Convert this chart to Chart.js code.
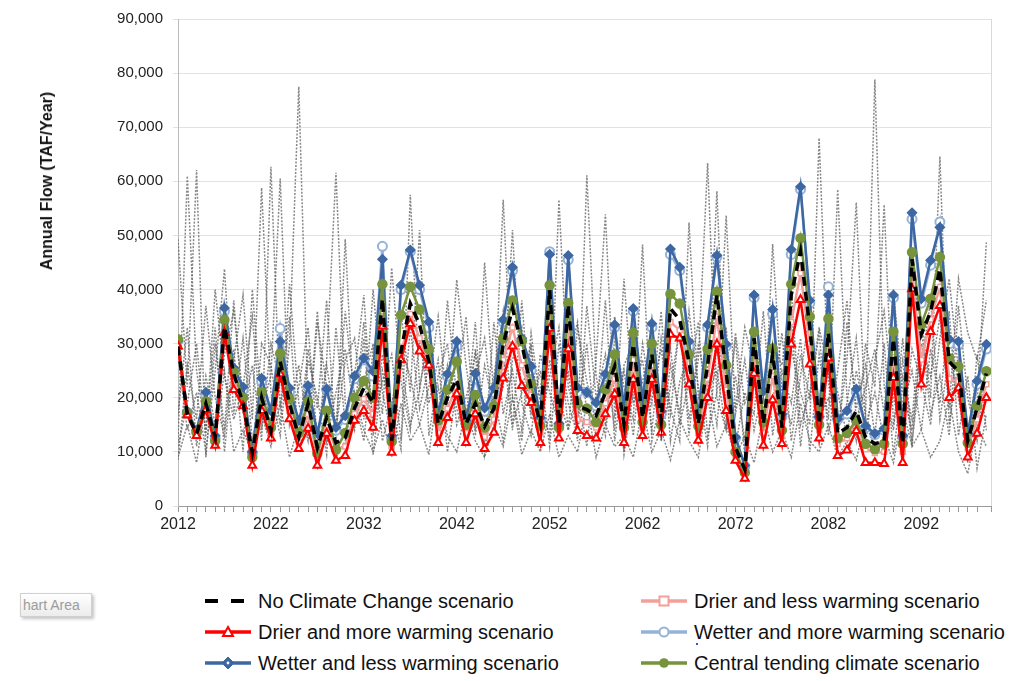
<!DOCTYPE html>
<html>
<head>
<meta charset="utf-8">
<script src="https://cdn.jsdelivr.net/npm/chart.js@4.4.0/dist/chart.umd.min.js"></script>
<style>
  html, body { margin: 0; padding: 0; background: #fff; }
  body { width: 1018px; height: 681px; position: relative; overflow: hidden;
         font-family: "Liberation Sans", Arial, sans-serif; }
  #chartBox { position: absolute; left: 0; top: 0; width: 1018px; height: 560px; }
  #yTitle { position: absolute; left: 47px; top: 181px; transform: translate(-50%, -50%) rotate(-90deg);
            font-weight: bold; font-size: 16px; white-space: nowrap; color: #111; }
  .lg { position: absolute; height: 24px; display: flex; align-items: center; font-size: 20px; color: #111; white-space: nowrap; }
  .lg svg { margin-right: 5px; }
  #areaTip { position: absolute; left: 20px; top: 593px; width: 72px; height: 24px; border: 1px solid #d0d0d0;
             background: linear-gradient(#ffffff, #ececec); box-shadow: 2px 2px 3px #c4c4c4;
             font-size: 14px; color: #9c9c9c; line-height: 23px; padding-left: 2px; box-sizing: border-box; }
  #dot { position: absolute; left: 696px; top: 643px; width: 2px; height: 2px; background: #3355dd; }
</style>
</head>
<body>
<div id="chartBox"><canvas id="flowChart" width="1018" height="560"></canvas></div>
<div id="yTitle">Annual Flow (TAF/Year)</div>
<div id="areaTip">hart Area</div>
<div id="dot"></div>
<div id="legend"></div>
<script>
// years 2012 - 2099
const years = [];
for (let y = 2012; y <= 2099; y++) years.push(y);

// scenario series (TAF/year)
const noChange = [
  29500,17000,13400,18900,12700,33100,24400,19000,9900,20000,
  13900,26700,18900,12700,18900,10800,16300,11700,12600,18100,
  21800,19100,38300,12100,28600,37400,33500,26700,15200,20000,
  23400,15200,18900,14700,18000,29900,36500,30000,21800,15200,
  39900,15200,37200,18500,17800,16700,20900,25800,15200,29900,
  16300,28000,15800,36500,34400,26700,15200,26000,39000,24500,
  10800,6800,31000,15200,28000,14500,39000,47000,33000,15200,
  32000,13400,14500,17600,12700,11500,12000,30900,11500,45600,
  31700,35900,43800,26700,24900,12100,18100,24500];
const drierLess = [
  29800,17000,13200,18400,12000,33000,23000,19000,9000,19000,
  13200,25800,17500,11800,17000,9500,15000,10500,11000,17000,
  19800,17000,36000,11000,28000,35500,31000,26500,13500,18000,
  22000,13500,18000,12800,16000,27000,33000,26000,20500,13500,
  36500,14000,33500,16000,15500,14500,19000,23500,13500,27000,
  14500,26000,14500,34000,32500,24500,13500,23500,35000,21500,
  9500,5800,28500,13500,24000,13000,34000,43000,30000,14000,
  30000,11500,12500,15800,10500,9800,10000,27500,10000,43000,
  27000,34500,40500,23500,23000,10800,16000,22500];
const drierMore = [
  29500,16800,13000,17800,11200,32000,21500,18500,7500,17600,
  12500,24400,16100,10600,14300,7500,13400,8400,9300,15800,
  17600,14500,33200,9900,27000,33700,28600,26000,11700,16300,
  20700,11700,17000,10600,13600,23600,29500,22200,19100,11700,
  32800,12500,29000,13900,13000,12500,17000,20700,11700,23400,
  13000,23400,13600,31700,31000,22500,12100,20000,29900,17600,
  8400,5100,24500,11200,19600,11500,29900,38100,26200,12500,
  27300,9300,10300,13900,8000,8000,7800,23700,8000,40100,
  22500,32200,37000,20000,21800,9000,13400,20000];
const wetterMore = [
  30500,17300,13800,20500,12500,36000,25000,21500,9800,23000,
  17000,32800,21000,15000,22000,13000,21500,14000,16000,23500,
  27000,24000,48000,12500,40000,47000,40000,33000,16500,24000,
  29500,15500,23500,17500,21000,34000,43500,30500,25000,16000,
  47000,15000,45500,21000,21000,18500,24000,33000,17500,36000,
  19000,33000,17000,46500,43500,29500,16000,33000,46000,29500,
  12500,7300,38500,20500,35500,16500,46500,58500,37500,16500,
  40500,16000,17000,21000,14500,13200,14000,38500,12800,53000,
  37500,44500,52500,30000,29800,13200,22500,29000];
const wetterLess = [
  30500,17500,14000,21000,13000,36600,25500,22000,10000,23600,
  17600,30400,21800,15800,22200,13400,21600,14500,16700,24000,
  27300,24900,45600,13000,40800,47300,40800,34000,17000,24400,
  30400,15800,24500,18100,21800,34400,44100,31000,25800,16300,
  46500,15200,46300,21800,21000,19100,24400,33500,18100,36500,
  19500,33700,17500,47500,44100,30400,16500,33500,46300,29900,
  12700,7500,39000,21200,36300,17000,47400,59000,38000,16500,
  39000,16100,17600,21600,14800,13400,14300,39000,13000,54200,
  38300,45400,51500,30800,30400,13400,23100,29900];
const central = [
  30800,17200,13600,19300,12000,34400,24800,20000,9000,21000,
  14500,28200,19800,13500,19300,9700,17600,10400,13500,20000,
  23100,20000,41000,11900,35300,40500,36300,29000,15800,21500,
  26700,15000,20500,14500,18500,31000,38000,30500,22500,14800,
  40800,14500,37500,19000,18000,15500,21500,28000,14500,32000,
  15500,30000,15000,39200,37400,28000,14800,29000,39600,26000,
  10000,6200,32200,15500,29100,14000,41000,49500,35000,15000,
  34600,12500,13500,15800,11500,10500,11500,32200,11500,46900,
  33500,38300,46000,27300,25800,11700,18500,24900];

// individual climate projections (grey dotted), rough reading
const gcm1 = [
  49300,22000,62100,9000,30000,14000,38000,17000,26000,12000,
  62700,18000,35000,11000,27000,20000,9500,33000,15000,24000,
  39000,13000,28000,18000,10500,57500,22000,31000,12500,19000,
  27000,16000,34000,9500,21000,29000,14000,38000,17000,25000,
  11000,30000,19000,13000,61100,24000,15000,28000,10000,36000,
  18000,26000,12000,22000,33000,16000,27000,63400,20000,14000,
  31000,9000,25000,17000,37000,12000,29000,21000,15000,68000,
  23000,11000,34000,18000,26000,13000,30000,9500,24000,16000,
  35000,20000,64600,15000,27000,11000,22000,30000];
const gcm2 = [
  12000,61000,25000,14000,33000,10000,27000,39000,16000,58800,
  21000,13000,30000,77500,18000,11000,26000,15000,36000,20000,
  12000,29000,17000,44000,23000,14000,31000,19000,27000,10000,
  22000,35000,13000,26000,18000,56600,20000,12000,29000,15000,
  24000,33000,14000,21000,11000,27000,53900,17000,25000,13000,
  30000,19000,36000,12000,23000,28000,14000,20000,58200,16000,
  24000,12000,32000,19000,27000,15000,35000,11000,26000,18000,
  29000,21000,13000,25000,17000,78800,22000,14000,31000,12000,
  26000,38000,16000,28000,20000,9000,19000,48700];
const gcm3 = [
  8500,26000,16000,37000,20000,13000,29000,10000,40000,18000,
  24000,60500,15000,22000,33000,12000,27000,61600,19000,14000,
  31000,9500,25000,16000,36000,21000,51000,13000,24000,30000,
  15000,20000,28000,11000,34000,17000,25000,14000,32000,19000,
  13000,56600,22000,16000,30000,12000,23000,35000,9500,21000,
  27000,14000,31000,18000,12000,52400,20000,26000,15000,33000,
  11000,21000,17000,36000,13000,25000,19000,31000,10000,28000,
  16000,58500,20000,12000,30000,22000,55700,15000,27000,11000,
  33000,17000,24000,13000,37000,20000,12000,26000];
const gcm4 = [
  28000,14000,21000,10000,25000,43800,17000,31000,12000,22000,
  16000,34000,20000,13000,29000,18000,38000,11000,49300,15000,
  23000,30000,12000,19000,27000,15000,21000,35000,14000,26000,
  18000,12000,24000,31000,16000,22000,51000,19000,13000,28000,
  21000,15000,27000,34000,17000,20000,13000,31000,22000,16000,
  48300,12000,20000,29000,15000,23000,34000,13000,21000,53700,
  17000,27000,14000,22000,19000,32000,12000,24000,36000,16000,
  20000,13000,27000,56100,15000,21000,12000,33000,18000,25000,
  14000,29000,19000,36000,13000,24000,7000,17000];
const gcm5 = [
  17000,33000,11000,24000,15000,28000,36000,20000,9000,30000,
  26000,15000,41000,19000,12000,34000,22000,14000,27000,31000,
  16000,40000,21000,13000,29000,24000,15000,22000,35000,18000,
  41800,26000,14000,45000,20000,12000,27000,33000,16000,22000,
  30000,18000,25000,12000,37000,20000,28000,14000,42000,19000,
  23000,31000,13000,26000,17000,36000,22000,11000,30000,24000,
  18000,33000,25000,12000,48400,21000,15000,28000,20000,32000,
  13000,25000,38000,16000,22000,29000,17000,40000,21000,14000,
  30000,24000,35000,18000,42000,32000,27000,38000];
const gcm6 = [
  11000,19000,30000,13000,40000,24000,16000,22000,35000,14000,
  30000,23000,17000,26000,14000,36000,12000,21000,29000,17000,
  34000,15000,23000,28000,12000,33000,18000,26000,15000,38000,
  20000,13000,29000,17000,24000,36000,15000,21000,30000,12000,
  27000,20000,14000,33000,23000,16000,38000,12000,26000,30000,
  15000,22000,29000,17000,34000,13000,30000,21000,25000,14000,
  32000,19000,23000,13000,30000,26000,40000,15000,21000,33000,
  25000,14000,19000,31000,11000,27000,36000,20000,13000,29000,
  23000,15000,31000,42000,25000,8000,28000,14000];
const gcm7 = [
  9000,15000,8000,20000,12000,25000,10000,14000,9500,17000,
  11000,19000,9000,15000,13000,10000,18000,9000,12000,21000,
  14000,10000,16000,9000,19000,12000,15000,9500,22000,13000,
  10000,18000,12000,9000,15000,11000,20000,9500,14000,10000,
  17000,9000,13000,10000,19000,9000,15000,11000,13000,9000,
  18000,10000,14000,8500,16000,12000,9000,20000,11000,15000,
  9000,13000,8000,17000,10000,14000,9000,19000,12000,10000,
  15000,9000,12000,8500,16000,10000,13000,8000,18000,11000,
  14000,9000,12000,20000,10000,6000,15000,11000];

const yTicks = [0, 10000, 20000, 30000, 40000, 50000, 60000, 70000, 80000, 90000];
const xLabelYears = [2012, 2022, 2032, 2042, 2052, 2062, 2072, 2082, 2092];

const FONT = "'Liberation Sans', Arial, sans-serif";
Chart.defaults.font.family = FONT;

function pts(values) {
  return values.map((v, i) => ({ x: years[i], y: v }));
}

// legend order (row by row, two columns)
const scenarios = [
  { label: 'No Climate Change scenario', data: noChange, color: '#000000', marker: 'dash' },
  { label: 'Drier and less warming scenario', data: drierLess, color: '#F4A09A', marker: 'rect' },
  { label: 'Drier and more warming scenario', data: drierMore, color: '#FF0000', marker: 'triangle' },
  { label: 'Wetter and more warming scenario', data: wetterMore, color: '#95B3D7', marker: 'circleOpen' },
  { label: 'Wetter and less warming scenario', data: wetterLess, color: '#3D67A3', marker: 'rectRot' },
  { label: 'Central tending climate scenario', data: central, color: '#77933C', marker: 'circle' }
];

function scenarioDataset(s) {
  const ds = {
    label: s.label, data: pts(s.data), borderColor: s.color, borderWidth: 2.5,
    tension: 0, pointRadius: 4, pointBorderWidth: 1.5,
    pointBorderColor: s.color, pointBackgroundColor: s.color
  };
  if (s.marker === 'dash') {
    ds.borderWidth = 3.5; ds.borderDash = [9, 6]; ds.pointRadius = 0;
  } else if (s.marker === 'rect') {
    ds.pointStyle = 'rect'; ds.pointBackgroundColor = '#fff'; ds.pointRadius = 3.5;
  } else if (s.marker === 'triangle') {
    ds.pointStyle = 'triangle'; ds.pointBackgroundColor = '#fff'; ds.pointRadius = 4.5; ds.pointBorderWidth = 2;
  } else if (s.marker === 'circleOpen') {
    ds.pointStyle = 'circle'; ds.pointBackgroundColor = '#fff'; ds.pointRadius = 4.5; ds.pointBorderWidth = 2;
  } else if (s.marker === 'rectRot') {
    ds.pointStyle = 'rectRot'; ds.pointRadius = 4.5;
  } else {
    ds.pointStyle = 'circle'; ds.pointRadius = 4.5;
  }
  return ds;
}

// draw order: first dataset ends on top
const byName = {};
scenarios.forEach(s => { byName[s.label] = s; });
const drawOrder = [
  'No Climate Change scenario', 'Drier and more warming scenario', 'Central tending climate scenario',
  'Wetter and less warming scenario', 'Wetter and more warming scenario', 'Drier and less warming scenario'
];
const datasets = drawOrder.map(n => scenarioDataset(byName[n]));

[gcm1, gcm2, gcm3, gcm4, gcm5, gcm6, gcm7].forEach((g, k) => {
  datasets.push({
    label: 'GCM ' + (k + 1), data: pts(g), borderColor: 'rgba(95,95,95,0.75)',
    borderWidth: 1.5, borderDash: [2, 1.5], pointRadius: 0, tension: 0
  });
});

// right-hand frame line of the plot area
const frame = {
  id: 'frame',
  beforeDatasetsDraw(chart) {
    const a = chart.chartArea, ctx = chart.ctx;
    ctx.save();
    ctx.strokeStyle = '#d9d9d9';
    ctx.lineWidth = 1;
    ctx.beginPath();
    ctx.moveTo(a.right + 0.5, a.top);
    ctx.lineTo(a.right + 0.5, a.bottom);
    ctx.stroke();
    ctx.restore();
  }
};

new Chart(document.getElementById('flowChart'), {
  type: 'line',
  data: { datasets: datasets },
  plugins: [frame],
  options: {
    responsive: false,
    animation: false,
    layout: { padding: { top: 15, right: 27, bottom: 14, left: 0 } },
    plugins: { legend: { display: false }, tooltip: { enabled: false } },
    scales: {
      x: {
        type: 'linear', min: 2012, max: 2099.5,
        afterFit: s => { s.height = 40; },
        grid: { drawOnChartArea: false, tickLength: 6, color: '#999' },
        border: { color: '#999' },
        ticks: {
          stepSize: 1, autoSkip: false, maxRotation: 0, padding: 3, color: '#222',
          font: { size: 16 },
          callback: v => xLabelYears.includes(v) ? String(v) : ''
        }
      },
      y: {
        min: 0, max: 90000,
        afterFit: s => { s.width = 178; },
        afterBuildTicks: s => { s.ticks = yTicks.map(v => ({ value: v })); },
        grid: { color: '#e2e2e2', tickLength: 5 },
        border: { color: '#bbb' },
        ticks: { padding: 10, color: '#222', font: { size: 15 },
                 callback: v => v.toLocaleString('en-US') }
      }
    }
  }
});

// HTML legend, two columns
function sampleSvg(s) {
  const c = s.color;
  let line = `<line x1="2" y1="8" x2="48" y2="8" stroke="${c}" stroke-width="3.5"/>`;
  let m = '';
  if (s.marker === 'dash') {
    line = `<line x1="2" y1="8" x2="48" y2="8" stroke="${c}" stroke-width="4" stroke-dasharray="13,13"/>`;
  } else if (s.marker === 'rect') {
    m = `<rect x="20.5" y="3.5" width="9" height="9" fill="#fff" stroke="${c}" stroke-width="2"/>`;
  } else if (s.marker === 'triangle') {
    m = `<polygon points="25,3 30,12 20,12" fill="#fff" stroke="${c}" stroke-width="2"/>`;
  } else if (s.marker === 'circleOpen') {
    m = `<circle cx="25" cy="8" r="4.5" fill="#fff" stroke="${c}" stroke-width="2"/>`;
  } else if (s.marker === 'rectRot') {
    m = `<polygon points="25,2 31,8 25,14 19,8" fill="${c}" stroke="${c}" stroke-width="1"/><circle cx="25" cy="8" r="1.4" fill="#fff"/>`;
  } else {
    m = `<circle cx="25" cy="8" r="4.8" fill="${c}"/>`;
  }
  return `<svg width="50" height="16" viewBox="0 0 50 16">${line}${m}</svg>`;
}

const legendRows = [589, 620, 651];
const legendCols = [203, 639];
const legendEl = document.getElementById('legend');
scenarios.forEach((s, i) => {
  const d = document.createElement('div');
  d.className = 'lg';
  d.style.left = legendCols[i % 2] + 'px';
  d.style.top = legendRows[Math.floor(i / 2)] + 'px';
  d.innerHTML = sampleSvg(s) + '<span>' + s.label + '</span>';
  legendEl.appendChild(d);
});
</script>
</body>
</html>
